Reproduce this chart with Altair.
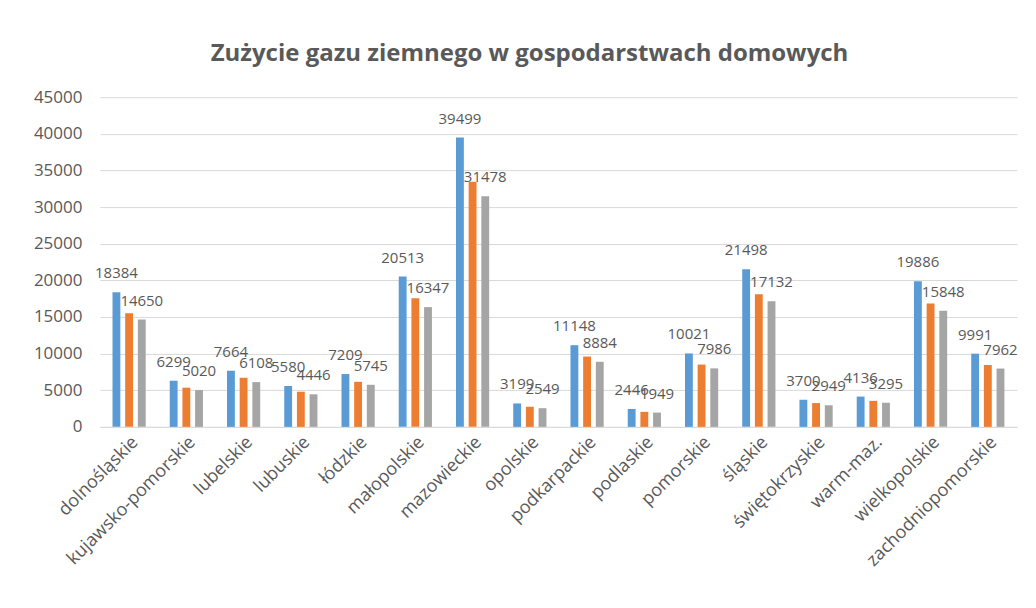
import altair as alt
import pandas as pd

regions = ["dolnośląskie", "kujawsko-pomorskie", "lubelskie", "lubuskie", "łódzkie",
           "małopolskie", "mazowieckie", "opolskie", "podkarpackie", "podlaskie",
           "pomorskie", "śląskie", "świętokrzyskie", "warm-maz.", "wielkopolskie",
           "zachodniopomorskie"]
series_a = [18384, 6299, 7664, 5580, 7209, 20513, 39499, 3199, 11148, 2446, 10021, 21498, 3700, 4136, 19886, 9991]
series_b = [15500, 5350, 6700, 4800, 6150, 17550, 33450, 2750, 9600, 2050, 8500, 18100, 3250, 3550, 16850, 8450]
series_c = [14650, 5020, 6108, 4446, 5745, 16347, 31478, 2549, 8884, 1949, 7986, 17132, 2949, 3295, 15848, 7962]
series_names = ["A", "B", "C"]
colors = ["#5B9BD5", "#ED7D31", "#A5A5A5"]
y_ticks = [0, 5000, 10000, 15000, 20000, 25000, 30000, 35000, 40000, 45000]

rows = []
for i, r in enumerate(regions):
    for s, vals in zip(series_names, [series_a, series_b, series_c]):
        rows.append({"region": r, "series": s, "value": vals[i],
                     "label": str(vals[i]) if s in ("A", "C") else ""})
df = pd.DataFrame(rows)

font = "Open Sans"
x = alt.X("region:N", sort=regions, title=None,
          scale=alt.Scale(paddingInner=0.42, paddingOuter=0.22),
          axis=alt.Axis(labelAngle=-45, labelFontSize=18, labelColor="#595959",
                        labelFont=font, ticks=False, domainColor="#D9D9D9",
                        labelPadding=6))
xo = alt.XOffset("series:N", scale=alt.Scale(paddingInner=0.38))
y = alt.Y("value:Q", title=None,
          scale=alt.Scale(domain=[0, 45000], nice=False),
          axis=alt.Axis(values=y_ticks, format="d", labelOverlap=False,
                        labelFontSize=17, labelColor="#595959", labelFont=font,
                        ticks=False, domain=False, gridColor="#D9D9D9",
                        labelPadding=18))

bars = alt.Chart(df).mark_bar().encode(
    x=x, xOffset=xo, y=y,
    color=alt.Color("series:N", scale=alt.Scale(domain=series_names, range=colors), legend=None),
)
labels = alt.Chart(df).transform_filter("datum.label != ''").mark_text(
    dy=-19, fontSize=15, color="#595959", font=font
).encode(x=x, xOffset=xo, y=y, text="label:N")

chart = alt.layer(bars, labels).properties(
    width=918, height=330,
    title=alt.TitleParams("Zużycie gazu ziemnego w gospodarstwach domowych",
                          fontSize=24, fontWeight="bold", color="#595959", font=font,
                          offset=22, dx=-29),
    padding={"left": 25, "top": 34, "right": 10, "bottom": 10},
).configure_view(stroke=None)

chart.save("out.html", embed_options={"renderer": "svg", "actions": False})
